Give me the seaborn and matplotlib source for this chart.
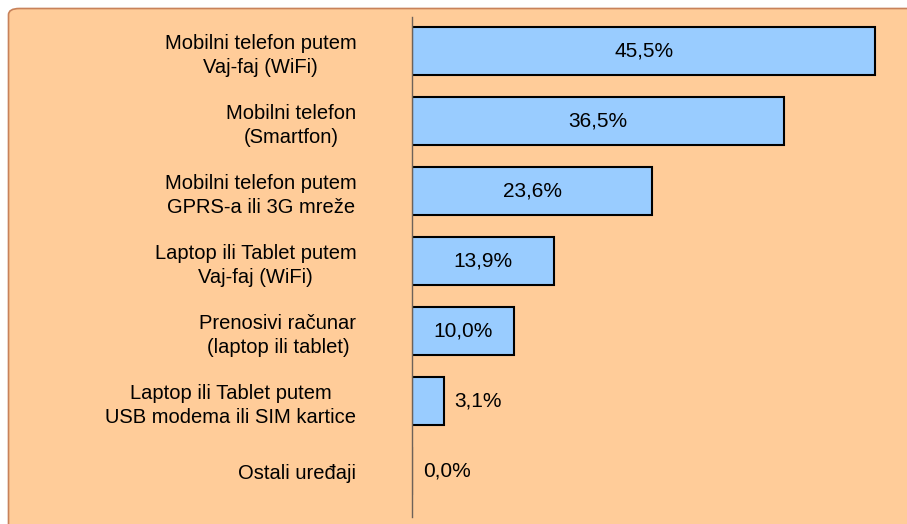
import pandas as pd
import matplotlib.pyplot as plt
import seaborn as sns
from matplotlib.patches import FancyBboxPatch

# Podaci
uredjaji = [
    "Mobilni telefon putem\nVaj-faj (WiFi)",
    "Mobilni telefon\n(Smartfon)",
    "Mobilni telefon putem\nGPRS-a ili 3G mreže",
    "Laptop ili Tablet putem\nVaj-faj (WiFi)",
    "Prenosivi računar\n(laptop ili tablet)",
    "Laptop ili Tablet putem\nUSB modema ili SIM kartice",
    "Ostali uređaji",
]
procenti = [45.5, 36.5, 23.6, 13.9, 10.0, 3.1, 0.0]

df = pd.DataFrame({"uredjaj": uredjaji, "procenat": procenti})

sns.set_style("white")
plt.rcParams["font.family"] = ["Liberation Sans", "DejaVu Sans"]

fig = plt.figure(figsize=(9.07, 5.24), dpi=100)
fig.patch.set_facecolor("white")

# pozadina sa zaobljenim uglovima
W, H = 907, 524
bg = FancyBboxPatch((8.5 / W, -20 / H), (W + 20) / W, (H + 20 - 8.5) / H,
                    boxstyle="round,pad=0,rounding_size=0.012",
                    transform=fig.transFigure, facecolor="#FFCC99",
                    edgecolor="#C8825A", linewidth=1.2, zorder=-10)
fig.patches.append(bg)

ax = fig.add_axes([412 / W, 1 - 517 / H, (W - 412) / W, 500 / H])
ax.set_zorder(5)
ax.set_facecolor("none")

sns.barplot(data=df, y="uredjaj", x="procenat", orient="h", ax=ax,
            color="#99CCFF", edgecolor="black", linewidth=1.5,
            width=0.69, saturation=1)

ax.set_xlim(0, (W - 412) / 10.18)
ax.set_ylim(6.657, -0.486)

ax.set_xlabel("")
ax.set_ylabel("")
ax.set_xticks([])
ax.tick_params(axis="y", length=0, pad=40, labelsize=14.5, labelcolor="black")
for lbl in ax.get_yticklabels():
    lbl.set_multialignment("center")
    lbl.set_linespacing(1.33)

for s in ["top", "right", "bottom"]:
    ax.spines[s].set_visible(False)
ax.spines["left"].set_color("#6E6259")
ax.spines["left"].set_linewidth(1.0)

tekst = [f"{v:.1f}".replace(".", ",") + "%" for v in procenti]
unutra = [t if v > 5 else "" for t, v in zip(tekst, procenti)]
spolja = [t if v <= 5 else "" for t, v in zip(tekst, procenti)]
ax.bar_label(ax.containers[0], labels=unutra, label_type="center",
             fontsize=15, color="black")
ax.bar_label(ax.containers[0], labels=spolja, label_type="edge", padding=8,
             fontsize=15, color="black")

fig.savefig("out.png", dpi=100)
